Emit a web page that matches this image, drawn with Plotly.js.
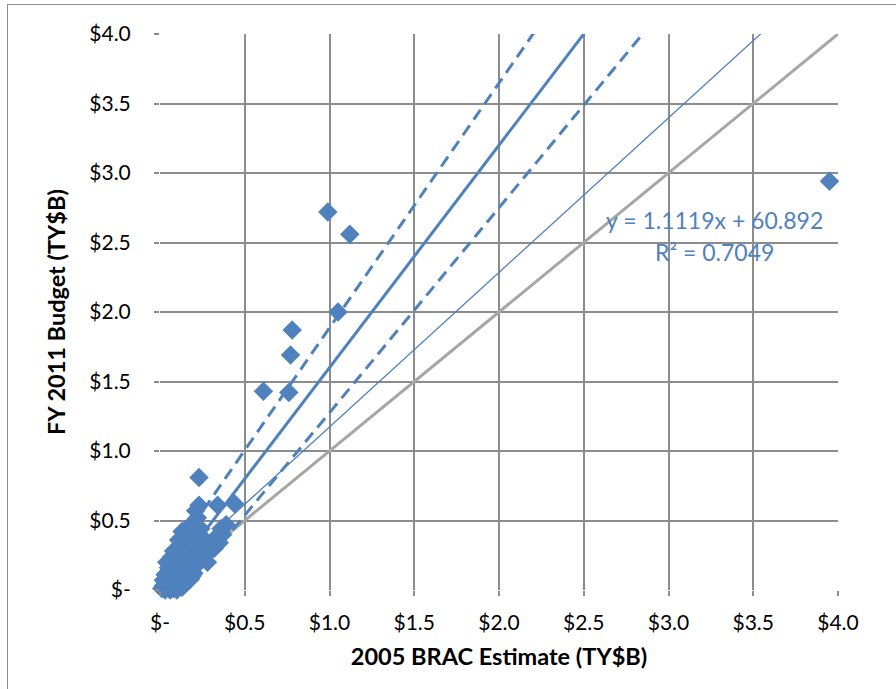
<!DOCTYPE html>
<html>
<head>
<meta charset="utf-8">
<script src="https://cdn.plot.ly/plotly-3.0.1.min.js"></script>
<style>
html,body{margin:0;padding:0;background:#fff;overflow:hidden;}
#frame{position:absolute;left:7px;top:4px;width:900px;height:700px;border:1px solid #8c8c8c;}
#chart{position:absolute;left:0;top:0;width:896px;height:689px;}
</style>
</head>
<body>
<div id="frame"></div>
<div id="chart"></div>
<script>
// 2005 BRAC estimate (TY$B) and FY 2011 budget (TY$B)
const braEstimate = [3.95, 0.99, 1.12, 1.05, 0.78, 0.77, 0.61, 0.76, 0.23, 0.44, 0.34, 0.23, 0.21, 0.39, 0.36, 0.35, 0.30, 0.27,
  0.01, 0.02, 0.03, 0.04, 0.05, 0.06, 0.07, 0.08, 0.09, 0.10, 0.11, 0.12, 0.13, 0.04, 0.05, 0.06, 0.07, 0.08, 0.09, 0.10, 0.11,
  0.12, 0.13, 0.14, 0.15, 0.16, 0.17, 0.18, 0.19, 0.20, 0.21, 0.22, 0.14, 0.15, 0.13, 0.17, 0.18, 0.19, 0.20, 0.22, 0.23, 0.24,
  0.25, 0.26, 0.28, 0.30, 0.32, 0.16, 0.18, 0.20, 0.08, 0.11, 0.14, 0.19, 0.25, 0.28,
  0.02, 0.03, 0.06, 0.10, 0.13, 0.15, 0.33, 0.37, 0.24, 0.04];
const fy2011Budget = [2.94, 2.72, 2.56, 2.00, 1.87, 1.69, 1.43, 1.42, 0.81, 0.62, 0.61, 0.61, 0.57, 0.47, 0.44, 0.34, 0.33, 0.30,
  0.01, 0.03, 0.00, 0.05, 0.02, 0.08, 0.04, 0.01, 0.10, 0.06, 0.03, 0.12, 0.08, 0.12, 0.16, 0.20, 0.24, 0.14, 0.18, 0.22, 0.27,
  0.18, 0.24, 0.15, 0.10, 0.20, 0.28, 0.14, 0.24, 0.18, 0.30, 0.22, 0.32, 0.38, 0.42, 0.44, 0.36, 0.48, 0.40, 0.52, 0.34, 0.28,
  0.38, 0.30, 0.26, 0.33, 0.30, 0.06, 0.08, 0.12, 0.28, 0.36, 0.26, 0.10, 0.22, 0.20,
  0.07, 0.11, 0.00, 0.00, 0.02, 0.05, 0.38, 0.40, 0.44, 0.20];

// reference lines: slope, intercept
const equalLine = {slope: 1.0, intercept: 0.0};
const trendLine = {slope: 1.1119, intercept: 0.0609};
const centerLine = {slope: 1.6, intercept: 0.0};
const upperBand = {slope: 1.761, intercept: 0.125};
const lowerBand = {slope: 1.475, intercept: -0.2};
const lineX = [0, 4];

const tickVals = [0, 0.5, 1.0, 1.5, 2.0, 2.5, 3.0, 3.5, 4.0];
const tickText = ['$-', '$0.5', '$1.0', '$1.5', '$2.0', '$2.5', '$3.0', '$3.5', '$4.0'];

const blue = '#4f81bd';
const font = 'Lato, "Open Sans", sans-serif';

function lineTrace(p, color, width, dash) {
  return {
    x: lineX, y: lineX.map(v => p.slope * v + p.intercept),
    mode: 'lines', type: 'scatter', hoverinfo: 'skip', showlegend: false,
    line: {color: color, width: width, dash: dash}
  };
}

const traces = [
  lineTrace(equalLine, '#a6a6a6', 3, 'solid'),
  lineTrace(trendLine, blue, 1.3, 'solid'),
  lineTrace(upperBand, blue, 3, '12px,7px'),
  lineTrace(lowerBand, blue, 3, '12px,7px'),
  lineTrace(centerLine, blue, 3, 'solid'),
  {
    x: braEstimate, y: fy2011Budget, mode: 'markers', type: 'scatter', showlegend: false,
    cliponaxis: false,
    marker: {symbol: 'diamond', size: 15, color: blue, line: {width: 0}}
  }
];

const axisCommon = {
  range: [0, 4], tickvals: tickVals, ticktext: tickText,
  showgrid: true, gridcolor: '#8c8c8c', gridwidth: 2,
  zeroline: false, showline: false,
  ticks: 'outside', ticklen: 5, tickcolor: '#8c8c8c', tickwidth: 2,
  tickfont: {family: font, size: 21, color: '#000'}, fixedrange: true
};

const layout = {
  width: 896, height: 689,
  margin: {l: 160, r: 58, t: 34, b: 99},
  paper_bgcolor: 'rgba(0,0,0,0)', plot_bgcolor: '#fff',
  xaxis: Object.assign({}, axisCommon, {
    ticklabelstandoff: 9,
    title: {text: '<b>2005 BRAC Estimate (TY$B)</b>', font: {family: font, size: 23.5, color: '#000'}, standoff: 15}
  }),
  yaxis: Object.assign({}, axisCommon, {
    ticklabelstandoff: 19,
    title: {text: '<b>FY 2011 Budget (TY$B)</b>', font: {family: font, size: 23.5, color: '#000'}, standoff: 17}
  }),
  annotations: [
    {x: 3.274, y: 2.662, xref: 'x', yref: 'y', text: 'y = 1.1119x + 60.892', showarrow: false,
     font: {family: font, size: 23, color: blue}},
    {x: 3.274, y: 2.432, xref: 'x', yref: 'y', text: 'R² = 0.7049', showarrow: false,
     font: {family: font, size: 23, color: blue}}
  ]
};

Plotly.newPlot('chart', traces, layout, {displayModeBar: false, staticPlot: true});
</script>
</body>
</html>
